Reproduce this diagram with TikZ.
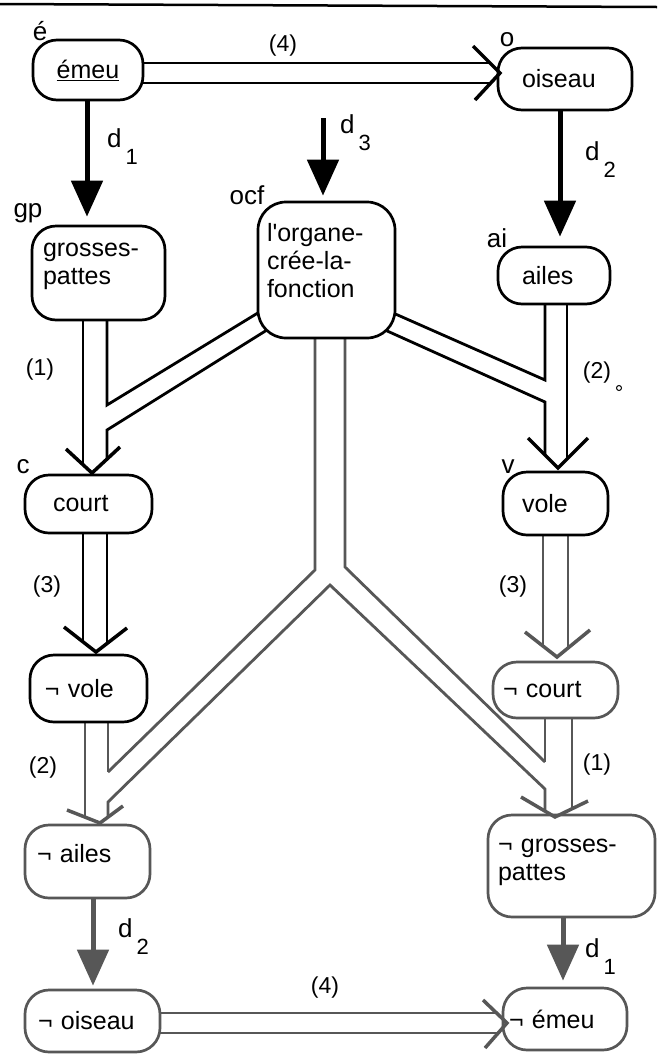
\documentclass[tikz,border=0pt]{standalone}
\usepackage{fontspec}
\setmainfont{Liberation Sans}
\usetikzlibrary{arrows.meta,backgrounds,calc}
\definecolor{gry}{gray}{0.34}
\newcommand\dsub[1]{d\hspace{4pt}\raisebox{-17pt}{\fontsize{22}{22}\selectfont #1}}
\newcommand\dn[1]{\rule[-#1]{0pt}{#1}}
\begin{document}
\begin{tikzpicture}[x=1pt,y=-1pt,
  every node/.style={font=\fontsize{25}{28}\selectfont},
  bx/.style={draw, line width=2.7pt, rounded corners=24pt, fill=white, inner ysep=0pt, align=left},
  gbx/.style={bx, draw=gry},
  lbl/.style={inner sep=0pt, font=\fontsize{26}{26}\selectfont},
  num/.style={inner sep=0pt, font=\fontsize{23}{23}\selectfont},
  sl/.style={line width=2.8pt, line join=miter},
  gl/.style={sl, draw=gry},
  arm/.style={line width=3.5pt, line join=miter},
  garm/.style={arm, draw=gry},
  darr/.style={line width=5pt, -{Triangle[length=36pt,width=31pt]}},
  gdarr/.style={darr, draw=gry, fill=gry},
]
\useasboundingbox (0,0) rectangle (657,1061);

% boxes
\node[bx, align=center, minimum width=110pt, minimum height=60pt, inner xsep=0pt] (emeu) at (88,70) {\underline{émeu}};
\node[bx, text width=86pt, inner xsep=24pt, minimum height=62pt] (ois) at (565,79) {oiseau};
\node[bx, text width=111pt, inner xsep=11pt, minimum height=94pt] (gp) at (98.5,273) {grosses-\\pattes\dn{18pt}};
\node[bx, rounded corners=28pt, text width=119pt, inner xsep=9pt, minimum height=136pt] (ocf) at (326.5,270) {l\textquotesingle organe-\\crée-la-\\fonction\dn{19pt}};
\node[bx, text width=64pt, inner xsep=24pt, minimum height=57pt] (ai) at (554,275.5) {ailes};
\node[bx, text width=71pt, inner xsep=28pt, minimum height=58pt] (court) at (88.5,504) {court};
\node[bx, text width=67pt, inner xsep=19pt, minimum height=63pt] (vole) at (555.5,503.5) {vole};
\node[bx, text width=87pt, inner xsep=15pt, minimum height=67pt] (nvole) at (88.5,688.5) {¬ vole};
\node[gbx, text width=105pt, inner xsep=10pt, minimum height=56pt] (ncourt) at (555.5,690) {¬ court};
\node[gbx, text width=101pt, inner xsep=12pt, minimum height=73pt] (nailes) at (87.5,861.5) {¬ ailes\dn{17pt}};
\node[gbx, text width=147pt, inner xsep=10pt, minimum height=102pt] (ngp) at (571.5,866) {¬ grosses-\\pattes\dn{13pt}};
\node[gbx, text width=109pt, inner xsep=13pt, minimum height=62pt] (noiseau) at (92.5,1021) {¬ oiseau};
\node[gbx, text width=112pt, inner xsep=6pt, minimum height=62pt] (nemeu) at (565,1019) {¬ émeu};

% streams (double lines) under the boxes
\begin{pgfonlayer}{background}
\fill[white] (0,0) rectangle (657,1061);
\draw[line width=2.5pt] (0,4) -- (657,7);
% (4) top
\draw[sl] (100,63) -- (490,63);
\draw[sl] (100,83) -- (490,83);
% gp + ocf -> court
\draw[sl] (83,300) -- (83,465);
\draw[sl] (107,300) -- (107,405) -- (275,302.5);
\draw[sl] (290,315.6) -- (107,430) -- (107,459);
% ailes + ocf -> vole
\draw[sl] (567,290) -- (567,459);
\draw[sl] (545,290) -- (545,380) -- (375,305);
\draw[sl] (365,321) -- (545,402) -- (545,455);
% court -> nvole
\draw[sl] (83,520) -- (83,642);
\draw[sl] (107,520) -- (107,643.5);
% vole -> ncourt
\draw[gl] (543,520) -- (543,646);
\draw[gl] (568,520) -- (568,648);
% ocf stem and branches
\draw[gl] (315,320) -- (315,570) -- (108,772);
\draw[gl] (345,320) -- (345,567) -- (545,762);
\draw[gl] (108,817) -- (108,802) -- (330,585) -- (545,789) -- (545,811);
% nvole -> nailes
\draw[gl] (85,710) -- (85,817);
\draw[gl] (108,710) -- (108,772);
% ncourt -> ngp
\draw[gl] (545,705) -- (545,762);
\draw[gl] (572,705) -- (572,809);
% (4) bottom
\draw[gl] (150,1013) -- (496.6,1013);
\draw[gl] (150,1033) -- (498,1033);
\end{pgfonlayer}

% open arrow heads
\draw[arm] (473,46) -- (500,73) -- (475,100);
\draw[arm] (66,449) -- (92,473) -- (120,447);
\draw[arm] (528,438) -- (558,468) -- (588,438);
\draw[arm] (64,627) -- (96,652) -- (127,628);
\draw[garm] (525,632) -- (557,657) -- (590,630);
\draw[garm] (67,810) -- (100,823) -- (123,806);
\draw[garm] (521,797) -- (555,817) -- (588,801);
\draw[garm] (483,1000) -- (507,1023) -- (485,1048);

% default arrows
\coordinate (d3s) at (323,118);
\draw[darr] ($(emeu.south)+(-1,0)$) -- ($(gp.north)+(-11.5,-8)$);
\draw[darr] ($(ois.south)+(-5,0)$) -- ($(ai.north)+(6,-9)$);
\draw[darr] (d3s) -- ($(ocf.north)+(-3.5,-5)$);
\draw[gdarr] ($(nailes.south)+(5.5,0)$) -- ($(noiseau.north)+(0.5,-3)$);
\draw[gdarr] ($(ngp.south)+(-8.5,0)$) -- ($(nemeu.north)+(-2,-6)$);

% labels
\node[lbl] (le) at (40,31) {é};
\node[num] (l4a) at (283,46) {(4)};
\node[lbl] (lo) at (507,40) {o};
\node[lbl, anchor=base west] (ld1) at (107,147) {\dsub{1}};
\node[lbl] (lgp) at (28,213) {gp};
\node[lbl] (locf) at (247,195) {ocf};
\node[lbl, anchor=base west] (ld3) at (340,133) {\dsub{3}};
\node[lbl, anchor=base west] (ld2) at (585,160) {\dsub{2}};
\node[lbl] (lai) at (497,238) {ai};
\node[num] (l1a) at (40,370) {(1)};
\node[num] (l2a) at (597,373) {(2)};
\draw[line width=1pt] (619,388) circle[radius=2.5pt];
\node[lbl] (lc) at (23,467) {c};
\node[lbl] (lv) at (508,467) {v};
\node[num] (l3a) at (47,587) {(3)};
\node[num] (l3b) at (513,587) {(3)};
\node[num] (l2b) at (43,768) {(2)};
\node[num] (l1b) at (597,765) {(1)};
\node[lbl, anchor=base west] (ld2b) at (118,937) {\dsub{2}};
\node[lbl, anchor=base west] (ld1b) at (585,957) {\dsub{1}};
\node[num] (l4b) at (325,988) {(4)};
\end{tikzpicture}
\end{document}
